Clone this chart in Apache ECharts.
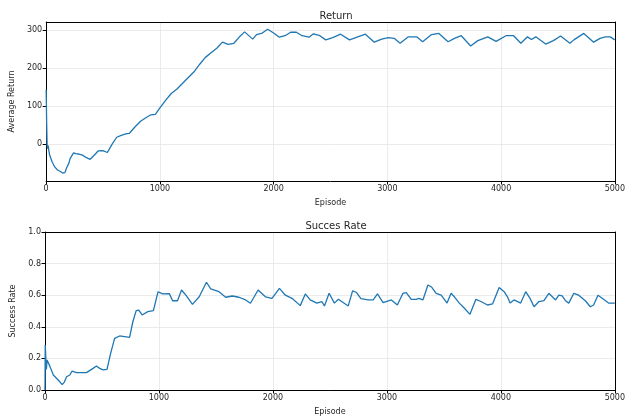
<!DOCTYPE html>
<html>
<head>
<meta charset="utf-8">
<script src="https://cdn.jsdelivr.net/npm/echarts@6/dist/echarts.min.js"></script>
<style>
  html, body { margin: 0; padding: 0; background: #fff; }
  #main { width: 628px; height: 419px; }
</style>
</head>
<body>
<div id="main"></div>
<script>
// episodes / values
var returnEpisodes = [0, 4, 8, 12, 18, 24, 30, 50, 75, 100, 125, 145, 165, 180, 200, 210, 225, 241, 260, 280, 320, 350, 387, 420, 457, 500, 538, 580, 620, 660, 700, 730, 745, 780, 830, 880, 920, 960, 1000, 1050, 1100, 1150, 1200, 1250, 1300, 1350, 1400, 1450, 1500, 1550, 1600, 1650, 1700, 1745, 1816, 1850, 1900, 1948, 2000, 2050, 2100, 2150, 2200, 2250, 2312, 2350, 2400, 2458, 2520, 2589, 2667, 2740, 2807, 2885, 2950, 3010, 3060, 3112, 3185, 3258, 3310, 3389, 3453, 3534, 3590, 3650, 3732, 3796, 3883, 3956, 4043, 4110, 4174, 4232, 4267, 4305, 4392, 4460, 4523, 4605, 4640, 4727, 4814, 4870, 4916, 4960, 5000];
var returnValues = [143, 60, 0, -12, -4, -18, -28, -45, -60, -68, -72, -76, -75, -62, -50, -38, -40, -23, -25, -26, -29, -35, -40, -30, -18, -17, -22, 0, 18, 23, 27, 28, 25, 45, 60, 70, 77, 78, 95, 115, 133, 145, 160, 175, 190, 210, 228, 240, 252, 268, 262, 265, 282, 295, 276, 288, 292, 302, 292, 281, 285, 294, 294, 285, 281, 290, 286, 274, 280, 289, 274, 282, 289, 268, 276, 280, 278, 265, 282, 282, 269, 288, 291, 269, 278, 285, 258, 272, 282, 270, 285, 285, 265, 282, 275, 282, 263, 272, 284, 265, 274, 291, 268, 278, 282, 282, 274];

var successEpisodes = [0, 2, 6, 12, 18, 29, 44, 73, 116, 151, 170, 189, 218, 238, 276, 320, 364, 422, 451, 480, 509, 544, 576, 611, 654, 698, 742, 771, 800, 823, 852, 902, 951, 992, 1032, 1091, 1120, 1163, 1198, 1236, 1294, 1353, 1417, 1454, 1527, 1585, 1643, 1702, 1760, 1803, 1870, 1934, 1992, 2057, 2109, 2167, 2240, 2284, 2327, 2385, 2429, 2452, 2493, 2539, 2574, 2661, 2699, 2734, 2772, 2836, 2880, 2917, 2967, 3039, 3092, 3141, 3170, 3214, 3258, 3281, 3316, 3360, 3394, 3432, 3476, 3528, 3563, 3592, 3636, 3680, 3729, 3781, 3825, 3883, 3927, 3985, 4029, 4058, 4081, 4116, 4174, 4218, 4256, 4291, 4334, 4378, 4421, 4480, 4509, 4538, 4567, 4596, 4640, 4683, 4741, 4785, 4814, 4852, 4901, 4945, 5000];
var successValues = [0, 0.285, 0.28, 0.13, 0.19, 0.186, 0.148, 0.095, 0.063, 0.034, 0.05, 0.084, 0.095, 0.12, 0.11, 0.11, 0.11, 0.137, 0.152, 0.137, 0.127, 0.13, 0.232, 0.327, 0.342, 0.338, 0.333, 0.432, 0.502, 0.506, 0.475, 0.496, 0.502, 0.622, 0.608, 0.61, 0.565, 0.565, 0.633, 0.6, 0.542, 0.59, 0.682, 0.64, 0.622, 0.587, 0.595, 0.587, 0.57, 0.549, 0.633, 0.59, 0.58, 0.643, 0.6, 0.58, 0.534, 0.608, 0.57, 0.55, 0.56, 0.532, 0.612, 0.55, 0.574, 0.532, 0.627, 0.617, 0.578, 0.57, 0.57, 0.608, 0.553, 0.57, 0.538, 0.612, 0.617, 0.574, 0.574, 0.58, 0.57, 0.665, 0.65, 0.612, 0.6, 0.55, 0.612, 0.59, 0.55, 0.517, 0.479, 0.574, 0.56, 0.538, 0.545, 0.648, 0.622, 0.59, 0.55, 0.57, 0.55, 0.622, 0.58, 0.527, 0.56, 0.565, 0.612, 0.57, 0.6, 0.595, 0.565, 0.55, 0.612, 0.6, 0.565, 0.527, 0.538, 0.6, 0.574, 0.55, 0.55];

var xTicks = [0, 1000, 2000, 3000, 4000, 5000];
var returnTicks = [0, 100, 200, 300];
var successTicks = [0, 0.2, 0.4, 0.6, 0.8, 1.0];

function pairs(xs, ys) {
  return xs.map(function (x, i) { return [x, ys[i]]; });
}

var font = "DejaVu Sans";
var txt = "#262626";

function xAxis(idx) {
  return {
    type: "value", gridIndex: idx, min: 0, max: 5000, z: 1,
    name: "Episode", nameLocation: "middle", nameGap: 18,
    nameTextStyle: { fontFamily: font, fontSize: 8, color: txt },
    axisLine: { show: true, onZero: false, lineStyle: { color: "#000", width: 1 } },
    axisTick: { show: true, length: 3.5, customValues: xTicks, lineStyle: { color: "#000" } },
    axisLabel: { customValues: xTicks, formatter: function (v) { return String(v); },
      fontFamily: font, fontSize: 8, color: txt, margin: 4 },
    splitLine: { show: true, lineStyle: { color: "#e6e6e6", width: 0.8 } }
  };
}

function yAxis(idx, name, min, max, ticks, fmt) {
  return {
    type: "value", gridIndex: idx, min: min, max: max, z: 1,
    name: name, nameLocation: "middle", nameGap: 27,
    nameTextStyle: { fontFamily: font, fontSize: 8, color: txt },
    axisLine: { show: true, onZero: false, lineStyle: { color: "#000", width: 1 } },
    axisTick: { show: true, length: 3.5, customValues: ticks, lineStyle: { color: "#000" } },
    axisLabel: { customValues: ticks, formatter: fmt, fontFamily: font, fontSize: 8, color: txt, margin: 4 },
    splitLine: { show: true, lineStyle: { color: "#e6e6e6", width: 0.8 } }
  };
}

// plain axes on the top and right sides close the box
function frameAxis(idx, pos, min, max) {
  return {
    type: "value", gridIndex: idx, position: pos, min: min, max: max, z: 5,
    axisLine: { show: true, onZero: false, lineStyle: { color: "#000", width: 1 } },
    axisTick: { show: false }, axisLabel: { show: false }, splitLine: { show: false }
  };
}

var chart = echarts.init(document.getElementById("main"), null, { renderer: "canvas" });
chart.setOption({
  animation: false,
  title: [
    { text: "Return", left: 331, top: 6, textAlign: "center",
      textStyle: { fontFamily: font, fontSize: 10, fontWeight: "normal", color: txt } },
    { text: "Succes Rate", left: 331, top: 216, textAlign: "center",
      textStyle: { fontFamily: font, fontSize: 10, fontWeight: "normal", color: txt } }
  ],
  grid: [
    { left: 45, top: 22, width: 573, height: 159 },
    { left: 45, top: 232, width: 573, height: 158 }
  ],
  xAxis: [xAxis(0), xAxis(1), frameAxis(0, "top", 0, 5000), frameAxis(1, "top", 0, 5000)],
  yAxis: [
    yAxis(0, "Average Return", -97, 321, returnTicks, function (v) { return String(v); }),
    yAxis(1, "Success Rate", 0, 1, successTicks, function (v) { return v.toFixed(1); }),
    frameAxis(0, "right", -97, 321),
    frameAxis(1, "right", 0, 1)
  ],
  series: [
    { type: "line", xAxisIndex: 0, yAxisIndex: 0, data: pairs(returnEpisodes, returnValues),
      showSymbol: false, lineStyle: { color: "#1f77b4", width: 1.3 } },
    { type: "line", xAxisIndex: 1, yAxisIndex: 1, data: pairs(successEpisodes, successValues),
      showSymbol: false, lineStyle: { color: "#1f77b4", width: 1.3 } }
  ]
});
</script>
</body>
</html>
